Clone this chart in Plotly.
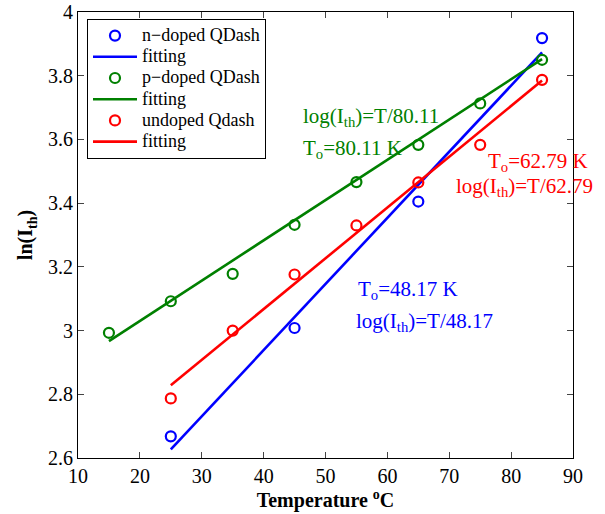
import plotly.graph_objects as go

# Data
temp_n = [25, 45, 65, 85]
ln_n = [2.668, 3.008, 3.405, 3.918]
fit_n_x = [25, 85]
fit_n_y = [2.627, 3.873]

temp_p = [15, 25, 35, 45, 55, 65, 75, 85]
ln_p = [2.993, 3.092, 3.178, 3.332, 3.466, 3.583, 3.713, 3.850]
fit_p_x = [15, 85]
fit_p_y = [2.967, 3.852]

temp_u = [25, 35, 45, 55, 65, 75, 85]
ln_u = [2.787, 3.000, 3.176, 3.330, 3.465, 3.583, 3.787]
fit_u_x = [25, 85]
fit_u_y = [2.828, 3.785]

x_ticks = [10, 20, 30, 40, 50, 60, 70, 80, 90]
y_ticks = [2.6, 2.8, 3.0, 3.2, 3.4, 3.6, 3.8, 4.0]
y_tick_text = ["2.6", "2.8", "3", "3.2", "3.4", "3.6", "3.8", "4"]

BLUE = "#0000ff"
GREEN = "#008000"
RED = "#ff0000"
FONT = "Liberation Serif"

fig = go.Figure()

def leg(txt):
    return '<span style="font-size:18px">' + txt + '</span>'

def add_series(x, y, fx, fy, color, name):
    fig.add_trace(go.Scatter(x=x, y=y, mode="markers", name=leg(name),
                             marker=dict(symbol="circle-open", size=10, color=color,
                                         line=dict(width=2.2, color=color))))
    fig.add_trace(go.Scatter(x=fx, y=fy, mode="lines", name=leg("fitting"),
                             line=dict(color=color, width=2.6)))

add_series(temp_n, ln_n, fit_n_x, fit_n_y, BLUE, "n\u2212doped QDash")
add_series(temp_p, ln_p, fit_p_x, fit_p_y, GREEN, "p\u2212doped QDash")
add_series(temp_u, ln_u, fit_u_x, fit_u_y, RED, "undoped Qdash")

W, H = 605, 514
PL, PR, PT, PB = 78, 573, 12, 458   # plot area in page pixels
L, T = PL, PT
R, B = W - PR, H - PB
pw, ph = PR - PL, PB - PT

ann_font = 21
annotations = [
    dict(x=301, y=117, text="log(I<sub>th</sub>)=T/80.11", color=GREEN),
    dict(x=301, y=149, text="T<sub>o</sub>=80.11 K", color=GREEN),
    dict(x=486, y=162, text="T<sub>o</sub>=62.79 K", color=RED),
    dict(x=454, y=187, text="log(I<sub>th</sub>)=T/62.79", color=RED),
    dict(x=356, y=290, text="T<sub>o</sub>=48.17 K", color=BLUE),
    dict(x=354, y=322, text="log(I<sub>th</sub>)=T/48.17", color=BLUE),
]
ann_list = []
for a in annotations:
    ann_list.append(dict(
        xref="paper", yref="paper",
        x=(a["x"] - PL) / pw, y=1 - (a["y"] - PT) / ph,
        xanchor="left", yanchor="middle", showarrow=False,
        text=a["text"], font=dict(family=FONT, size=ann_font, color=a["color"])))

fig.update_layout(
    width=W, height=H,
    margin=dict(l=L, r=R, t=T, b=B, autoexpand=False),
    paper_bgcolor="white", plot_bgcolor="white",
    font=dict(family=FONT, size=19, color="black"),
    showlegend=True,
    legend=dict(x=(87 - PL) / pw, y=1 - (19 - PT) / ph, xanchor="left", yanchor="top",
                bgcolor="white", bordercolor="black", borderwidth=1,
                font=dict(family=FONT, size=14, color="black"),
                tracegroupgap=0, itemwidth=44),
    annotations=ann_list,
    xaxis=dict(range=[10, 90], tickvals=x_ticks, ticks="inside", ticklen=6,
               showline=True, linecolor="black", linewidth=1.2, mirror="ticks",
               showgrid=False, zeroline=False, automargin=False,
               tickfont=dict(family=FONT, size=20, color="black"),
               title=dict(text="<b>Temperature <sup>o</sup>C</b>", standoff=4,
                          font=dict(family=FONT, size=20, color="black"))),
    yaxis=dict(range=[2.6, 4.0], tickvals=y_ticks, ticktext=y_tick_text,
               ticks="inside", ticklen=6, ticklabeloverflow="allow",
               showline=True, linecolor="black", linewidth=1.2, mirror="ticks",
               showgrid=False, zeroline=False, automargin=False,
               tickfont=dict(family=FONT, size=20, color="black"),
               title=dict(text="<b>ln(I<sub>th</sub>)</b>", standoff=9,
                          font=dict(family=FONT, size=20, color="black"))),
)

fig.write_html("out.html", config={"displayModeBar": False},
               post_script="document.body.style.margin='0';")
